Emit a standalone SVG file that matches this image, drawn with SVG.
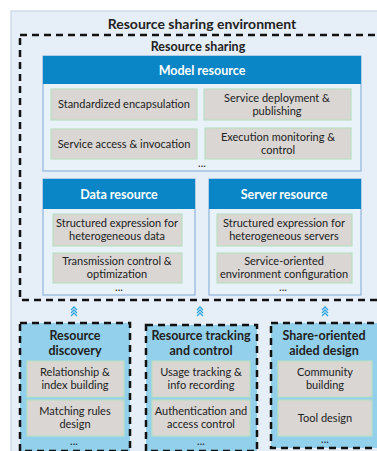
<svg xmlns="http://www.w3.org/2000/svg" width="377" height="451" viewBox="0 0 377 451">
<style>
text{font-family:Lato,"Open Sans","Liberation Sans",sans-serif;fill:#222;text-anchor:middle}
.t{font-weight:bold}
.h{font-weight:bold;fill:#fff;font-size:12.5px}
.it{font-size:11px}
.cell{fill:#d9d6d4;stroke:#b9dfc1;stroke-width:1.2}
.grp{fill:#e9f1f9;stroke:#8fb6dc;stroke-width:1.2}
.hdr{fill:#0a86c7}
.dash{fill:none;stroke:#111;stroke-width:2.5;stroke-dasharray:7,5}
.bot{fill:#92d0ec;stroke:#111;stroke-width:2.5;stroke-dasharray:7,5}
.chev{fill:none;stroke:#2fa6df;stroke-width:1.3}
</style>
<rect x="11" y="11" width="380" height="450" fill="#e6eef7" stroke="#c8d6e6" stroke-width="1.2"/>
<text class="t" x="202" y="29" font-size="14">Resource sharing environment</text>
<rect class="dash" x="20" y="35" width="370" height="265"/>
<text class="t" x="198" y="51" font-size="12.5">Resource sharing</text>

<g id="model-resource">
<rect class="grp" x="43" y="56" width="318" height="115"/>
<rect class="hdr" x="43" y="56" width="318" height="28"/>
<text class="h" x="202" y="75">Model resource</text>
<rect class="cell" x="51" y="89" width="146" height="31"/>
<text class="it" x="124" y="108">Standardized encapsulation</text>
<rect class="cell" x="204" y="89" width="147" height="31"/>
<text class="it" x="277" y="102">Service deployment &amp;</text>
<text class="it" x="277" y="115">publishing</text>
<rect class="cell" x="51" y="129" width="146" height="30"/>
<text class="it" x="124" y="148">Service access &amp; invocation</text>
<rect class="cell" x="205" y="128" width="146" height="31"/>
<text class="it" x="278" y="141">Execution monitoring &amp;</text>
<text class="it" x="278" y="154">control</text>
<text class="it" x="202" y="167">...</text>
</g>

<g id="data-resource">
<rect class="grp" x="43" y="179" width="152" height="116"/>
<rect class="hdr" x="43" y="179" width="152" height="30"/>
<text class="h" x="119" y="199">Data resource</text>
<rect class="cell" x="53" y="214" width="129" height="32"/>
<text class="it" x="117" y="227">Structured expression for</text>
<text class="it" x="117" y="240">heterogeneous data</text>
<rect class="cell" x="53" y="253" width="129" height="30"/>
<text class="it" x="117" y="265">Transmission  control &amp;</text>
<text class="it" x="117" y="278">optimization</text>
<text class="it" x="119" y="291">...</text>
</g>

<g id="server-resource">
<rect class="grp" x="209" y="179" width="152" height="116"/>
<rect class="hdr" x="209" y="179" width="152" height="30"/>
<text class="h" x="284" y="199">Server resource</text>
<rect class="cell" x="217" y="214" width="135" height="32"/>
<text class="it" x="284" y="227">Structured expression for</text>
<text class="it" x="284" y="240">heterogeneous servers</text>
<rect class="cell" x="217" y="253" width="135" height="30"/>
<text class="it" x="284" y="265">Service-oriented</text>
<text class="it" x="284" y="278">environment configuration</text>
<text class="it" x="283" y="291">...</text>
</g>

<g id="connectors">
<path class="chev" d="M71,310 L74,307 L77,310 M71,313 L74,310 L77,313 M71,316 L74,313 L77,316"/>
<path class="chev" d="M197,310 L200,307 L203,310 M197,313 L200,310 L203,313 M197,316 L200,313 L203,316"/>
<path class="chev" d="M322,310 L325,307 L328,310 M322,313 L325,310 L328,313 M322,316 L325,313 L328,316"/>
</g>

<g id="resource-discovery">
<rect class="bot" x="20" y="323" width="110" height="128"/>
<text class="t" x="75" y="340" font-size="12.5">Resource</text>
<text class="t" x="75" y="355" font-size="12.5">discovery</text>
<rect class="cell" x="27" y="361" width="97" height="36"/>
<text class="it" x="75" y="376">Relationship &amp;</text>
<text class="it" x="75" y="389">index building</text>
<rect class="cell" x="27" y="400" width="97" height="36"/>
<text class="it" x="75" y="415">Matching rules</text>
<text class="it" x="75" y="428">design</text>
<text class="it" x="74" y="445">...</text>
</g>

<g id="resource-tracking">
<rect class="bot" x="146" y="325" width="111" height="126"/>
<text class="t" x="201" y="340" font-size="12.5">Resource tracking</text>
<text class="t" x="201" y="355" font-size="12.5">and control</text>
<rect class="cell" x="152" y="361" width="98" height="36"/>
<text class="it" x="201" y="376">Usage tracking &amp;</text>
<text class="it" x="201" y="389">info recording</text>
<rect class="cell" x="152" y="400" width="98" height="36"/>
<text class="it" x="201" y="415">Authentication and</text>
<text class="it" x="201" y="428">access control</text>
<text class="it" x="201" y="445">...</text>
</g>

<g id="share-oriented-design">
<rect class="bot" x="271" y="323" width="120" height="125"/>
<text class="t" x="324" y="340" font-size="12.5">Share-oriented</text>
<text class="t" x="324" y="355" font-size="12.5">aided design</text>
<rect class="cell" x="278" y="361" width="94" height="36"/>
<text class="it" x="325" y="376">Community</text>
<text class="it" x="325" y="389">building</text>
<rect class="cell" x="278" y="400" width="94" height="36"/>
<text class="it" x="325" y="422">Tool design</text>
<text class="it" x="325" y="443">...</text>
</g>
</svg>
